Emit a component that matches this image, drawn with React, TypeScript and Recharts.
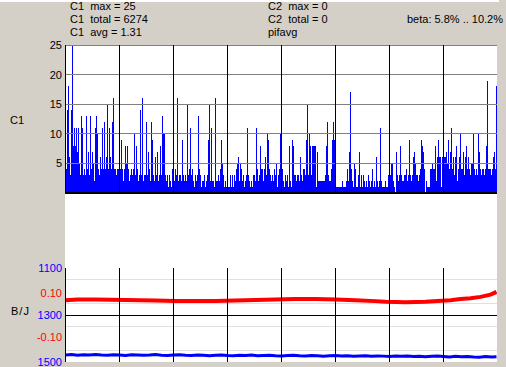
import React from 'react';
import { BarChart, Bar, LineChart, Line, ComposedChart, XAxis, YAxis, ReferenceLine } from 'recharts';

// C1 counts, one value per sample column
const c1Values: number[] = [
  4,4,14,18,6,3,14,25,8,11, 8,11,7,11,5,3,13,11,3,4, 3,13,4,7,3,13,4,7,5,2, 11,13,10,4,3,6,4,11,4,12, 4,6,15,4,11,6,4,12,16,4, 4,3,4,4,
  3,4,9,4,2,4,8,5,8,4, 2,3,4,3,4,10,3,8,4,2, 3,14,3,16,2,3,3,12,3,7, 4,2,12,9,3,2,6,3,7,2, 3,8,3,13,10,10,3,2,3,1, 3,2,1,4,
  2,2,4,3,16,2,3,3,2,9, 3,2,3,2,15,3,4,11,3,4, 2,1,3,2,3,13,4,3,1,2, 2,3,1,2,3,9,15,2,11,2, 2,1,16,2,2,3,2,4,9,5, 3,1,2,1,
  1,1,1,3,1,3,1,3,2,4, 5,6,2,5,4,2,3,1,2,3, 11,3,2,1,2,1,3,3,2,11, 4,2,3,8,4,4,2,4,6,3, 10,9,4,3,2,3,2,4,3,5, 1,3,4,10,
  5,4,2,1,3,2,3,1,8,2, 1,9,8,3,3,2,3,3,2,6, 3,2,4,4,3,9,15,3,10,8, 3,8,8,8,8,1,7,2,2,2, 2,2,2,2,3,8,12,3,2,2, 4,9,12,9,
  1,1,1,1,1,1,1,2,1,1, 1,2,4,2,7,17,4,2,1,5, 4,1,1,3,7,1,3,1,3,2, 1,2,1,3,2,1,2,4,1,2, 1,6,2,1,2,11,2,1,1,1, 2,1,1,3,
  3,3,5,5,2,1,0,7,3,2, 3,8,3,2,2,3,3,4,2,3, 9,3,2,3,6,7,5,3,3,2, 3,4,9,8,7,4,0,2,1,1, 1,4,4,5,4,4,8,2,6,9, 6,6,1,6,
  9,6,6,7,5,9,4,7,11,4, 6,3,6,8,2,4,6,10,4,4, 7,3,6,8,4,6,4,3,5,5, 10,4,3,4,3,10,7,4,3,4, 4,3,4,8,19,4,4,4,3,4, 6,7,4,18,
];

// vertical grid positions (sample index)
const gridX: number[] = [0, 54, 108, 162, 216, 270, 324, 378];
const c1Ticks: number[] = [5, 10, 15, 20, 25];

// B/J red series (pif avg)
const redIdx: number[] = [0, 12, 30, 60, 90, 110, 130, 150, 170, 190, 210, 230, 250, 270, 290, 310, 320, 340, 360, 372, 385, 395, 405, 415, 425, 431];
const redVal: number[] = [0.066, 0.069, 0.069, 0.067, 0.065, 0.063, 0.062, 0.063, 0.065, 0.067, 0.069, 0.071, 0.071, 0.069, 0.066, 0.062, 0.059, 0.057, 0.059, 0.063, 0.066, 0.071, 0.075, 0.081, 0.091, 0.103];

// B/J blue series
const blueIdx: number[] = [
  0,6,12,18,24,30,36,42,48,54, 60,66,72,78,84,90,96,102,108,114, 120,126,132,138,144,150,156,162,168,174,
  180,186,192,198,204,210,216,222,228,234, 240,246,252,258,264,270,276,282,288,294, 300,306,312,318,324,330,336,342,348,354,
  360,366,372,378,384,390,396,402,408,414, 420,426,431,
];
const blueVal: number[] = [
  1470,1468,1471,1469,1470,1468,1470,1471,1469,1470,
  1472,1469,1470,1471,1470,1468,1471,1472,1470,1469,
  1471,1472,1470,1471,1473,1471,1470,1472,1473,1471,
  1472,1470,1473,1472,1471,1473,1474,1472,1471,1473,
  1474,1472,1473,1475,1473,1472,1474,1473,1475,1474,
  1473,1476,1474,1475,1477,1474,1476,1475,1477,1476,
  1478,1476,1475,1477,1479,1476,1478,1477,1479,1480,
  1477,1479,1478,
];
const blueTicks: number[] = [1100, 1300, 1500];
const blueLight: number[] = [1150, 1250, 1350, 1450];
const redTicks: number[] = [0.1, -0.1];

const c1Data = c1Values.map((v, i) => ({ i, v }));
const redData = redIdx.map((i, k) => ({ i, v: redVal[k] }));
const blueData = blueIdx.map((i, k) => ({ i, v: blueVal[k] }));
const idxData = c1Values.map((_, i) => ({ i }));

const FONT = '"Liberation Sans", Arial, sans-serif';
const BG = '#d4d0c8';

const txt = (left: number, top: number, s: string, extra: React.CSSProperties = {}) => (
  <div style={{ position: 'absolute', left, top, fontSize: 11, lineHeight: '13px', whiteSpace: 'pre', color: '#000', ...extra }}>{s}</div>
);

export default function App() {
  const xDomain: [number, number] = [-0.5, 431.5];
  return (
    <div style={{ position: 'absolute', left: 0, top: 0, width: 506, height: 367, background: BG, fontFamily: FONT, overflow: 'hidden' }}>
      <div style={{ position: 'absolute', left: 0, top: 0, width: 499, height: 2, background: '#fff' }} />
      {txt(70, 0, 'C1  max = 25')}
      {txt(70, 13, 'C1  total = 6274')}
      {txt(70, 26, 'C1  avg = 1.31')}
      {txt(268, 0, 'C2  max = 0')}
      {txt(268, 13, 'C2  total = 0')}
      {txt(268, 26, 'pifavg')}
      <div style={{ position: 'absolute', right: 3, top: 13, fontSize: 11, lineHeight: '13px', whiteSpace: 'pre' }}>beta: 5.8% .. 10.2%</div>
      {txt(10, 114, 'C1')}
      {txt(11, 305, 'B/J', { letterSpacing: 1 })}

      <div style={{ position: 'absolute', left: 65, top: 45, width: 432, height: 317, background: '#fff' }} />

      {/* C1 panel */}
      <div style={{ position: 'absolute', left: 0, top: 35 }}>
        <BarChart width={506} height={170} data={c1Data} margin={{ top: 10, right: 9, bottom: 12, left: 0 }} barCategoryGap={0} barGap={0} barSize={1}>
          <XAxis dataKey="i" hide />
          <YAxis domain={[0, 25]} ticks={c1Ticks} width={65} axisLine={false} tickLine={false} tickSize={0} tickMargin={3} interval={0} tick={{ fill: '#000', fontSize: 11 }} />
          <Bar dataKey="v" fill="#0000ff" isAnimationActive={false} shapeRendering="crispEdges" barSize={1} />
          {c1Ticks.map((t) => (
            <ReferenceLine key={'h' + t} y={t} stroke="#808080" strokeWidth={1} shapeRendering="crispEdges" zIndex={800} />
          ))}
          {gridX.map((g) => (
            <ReferenceLine key={'v' + g} x={g} stroke="#000" strokeWidth={1} shapeRendering="crispEdges" zIndex={900} />
          ))}
          <ReferenceLine y={0} stroke="#000" strokeWidth={2} zIndex={900} />
        </BarChart>
      </div>

      {/* C2 panel (empty) */}
      <div style={{ position: 'absolute', left: 0, top: 184 }}>
        <ComposedChart width={506} height={94} data={idxData} margin={{ top: 10, right: 9, bottom: 10, left: 65 }}>
          <XAxis dataKey="i" type="number" domain={xDomain} hide />
          <YAxis domain={[0, 25]} hide />
          {gridX.map((g) => (
            <ReferenceLine key={'cv' + g} x={g} stroke="#000" strokeWidth={1} shapeRendering="crispEdges" zIndex={900} />
          ))}
          <ReferenceLine y={0} stroke="#000" strokeWidth={2} zIndex={900} />
        </ComposedChart>
      </div>

      {/* B/J panel: blue axis, grid, blue line */}
      <div style={{ position: 'absolute', left: 0, top: 258 }}>
        <LineChart width={506} height={109} margin={{ top: 10, right: 9, bottom: 5, left: 0 }}>
          <XAxis dataKey="i" type="number" domain={xDomain} hide allowDataOverflow />
          <YAxis yAxisId="b" reversed domain={[1100, 1500]} ticks={blueTicks} width={65} axisLine={false} tickLine={false} tickSize={0} tickMargin={3} interval={0} tick={{ fill: '#0000ff', fontSize: 11 }} />
          <YAxis yAxisId="r" domain={[-0.21, 0.21]} hide />
          {blueLight.map((t) => (
            <ReferenceLine key={'bl' + t} yAxisId="b" y={t} stroke="#e0e0e0" strokeWidth={1} shapeRendering="crispEdges" zIndex={100} />
          ))}
          {redTicks.map((t) => (
            <ReferenceLine key={'rg' + t} yAxisId="r" y={t} stroke="#a0a0a0" strokeWidth={1} shapeRendering="crispEdges" zIndex={100} />
          ))}
          <ReferenceLine yAxisId="b" y={1300} stroke="#000" strokeWidth={1} shapeRendering="crispEdges" zIndex={100} />
          <Line yAxisId="b" data={blueData} dataKey="v" stroke="#0000ff" strokeWidth={3} dot={false} isAnimationActive={false} type="linear" />
          {gridX.map((g) => (
            <ReferenceLine key={'bv' + g} yAxisId="b" x={g} stroke="#000" strokeWidth={1} shapeRendering="crispEdges" zIndex={900} />
          ))}
        </LineChart>
      </div>

      {/* B/J panel: red axis and red line */}
      <div style={{ position: 'absolute', left: 0, top: 258 }}>
        <LineChart width={506} height={109} margin={{ top: 10, right: 9, bottom: 5, left: 0 }}>
          <XAxis dataKey="i" type="number" domain={xDomain} hide allowDataOverflow />
          <YAxis domain={[-0.21, 0.21]} ticks={redTicks} width={65} axisLine={false} tickLine={false} tickSize={0} tickMargin={3} interval={0} tick={{ fill: '#ff0000', fontSize: 11 }} tickFormatter={(v: number) => v.toFixed(2)} />
          <Line data={redData} dataKey="v" stroke="#ff0000" strokeWidth={4} dot={false} isAnimationActive={false} type="linear" />
          {gridX.map((g) => (
            <ReferenceLine key={'rv' + g} x={g} stroke="#000" strokeWidth={1} shapeRendering="crispEdges" zIndex={900} />
          ))}
        </LineChart>
      </div>
    </div>
  );
}
